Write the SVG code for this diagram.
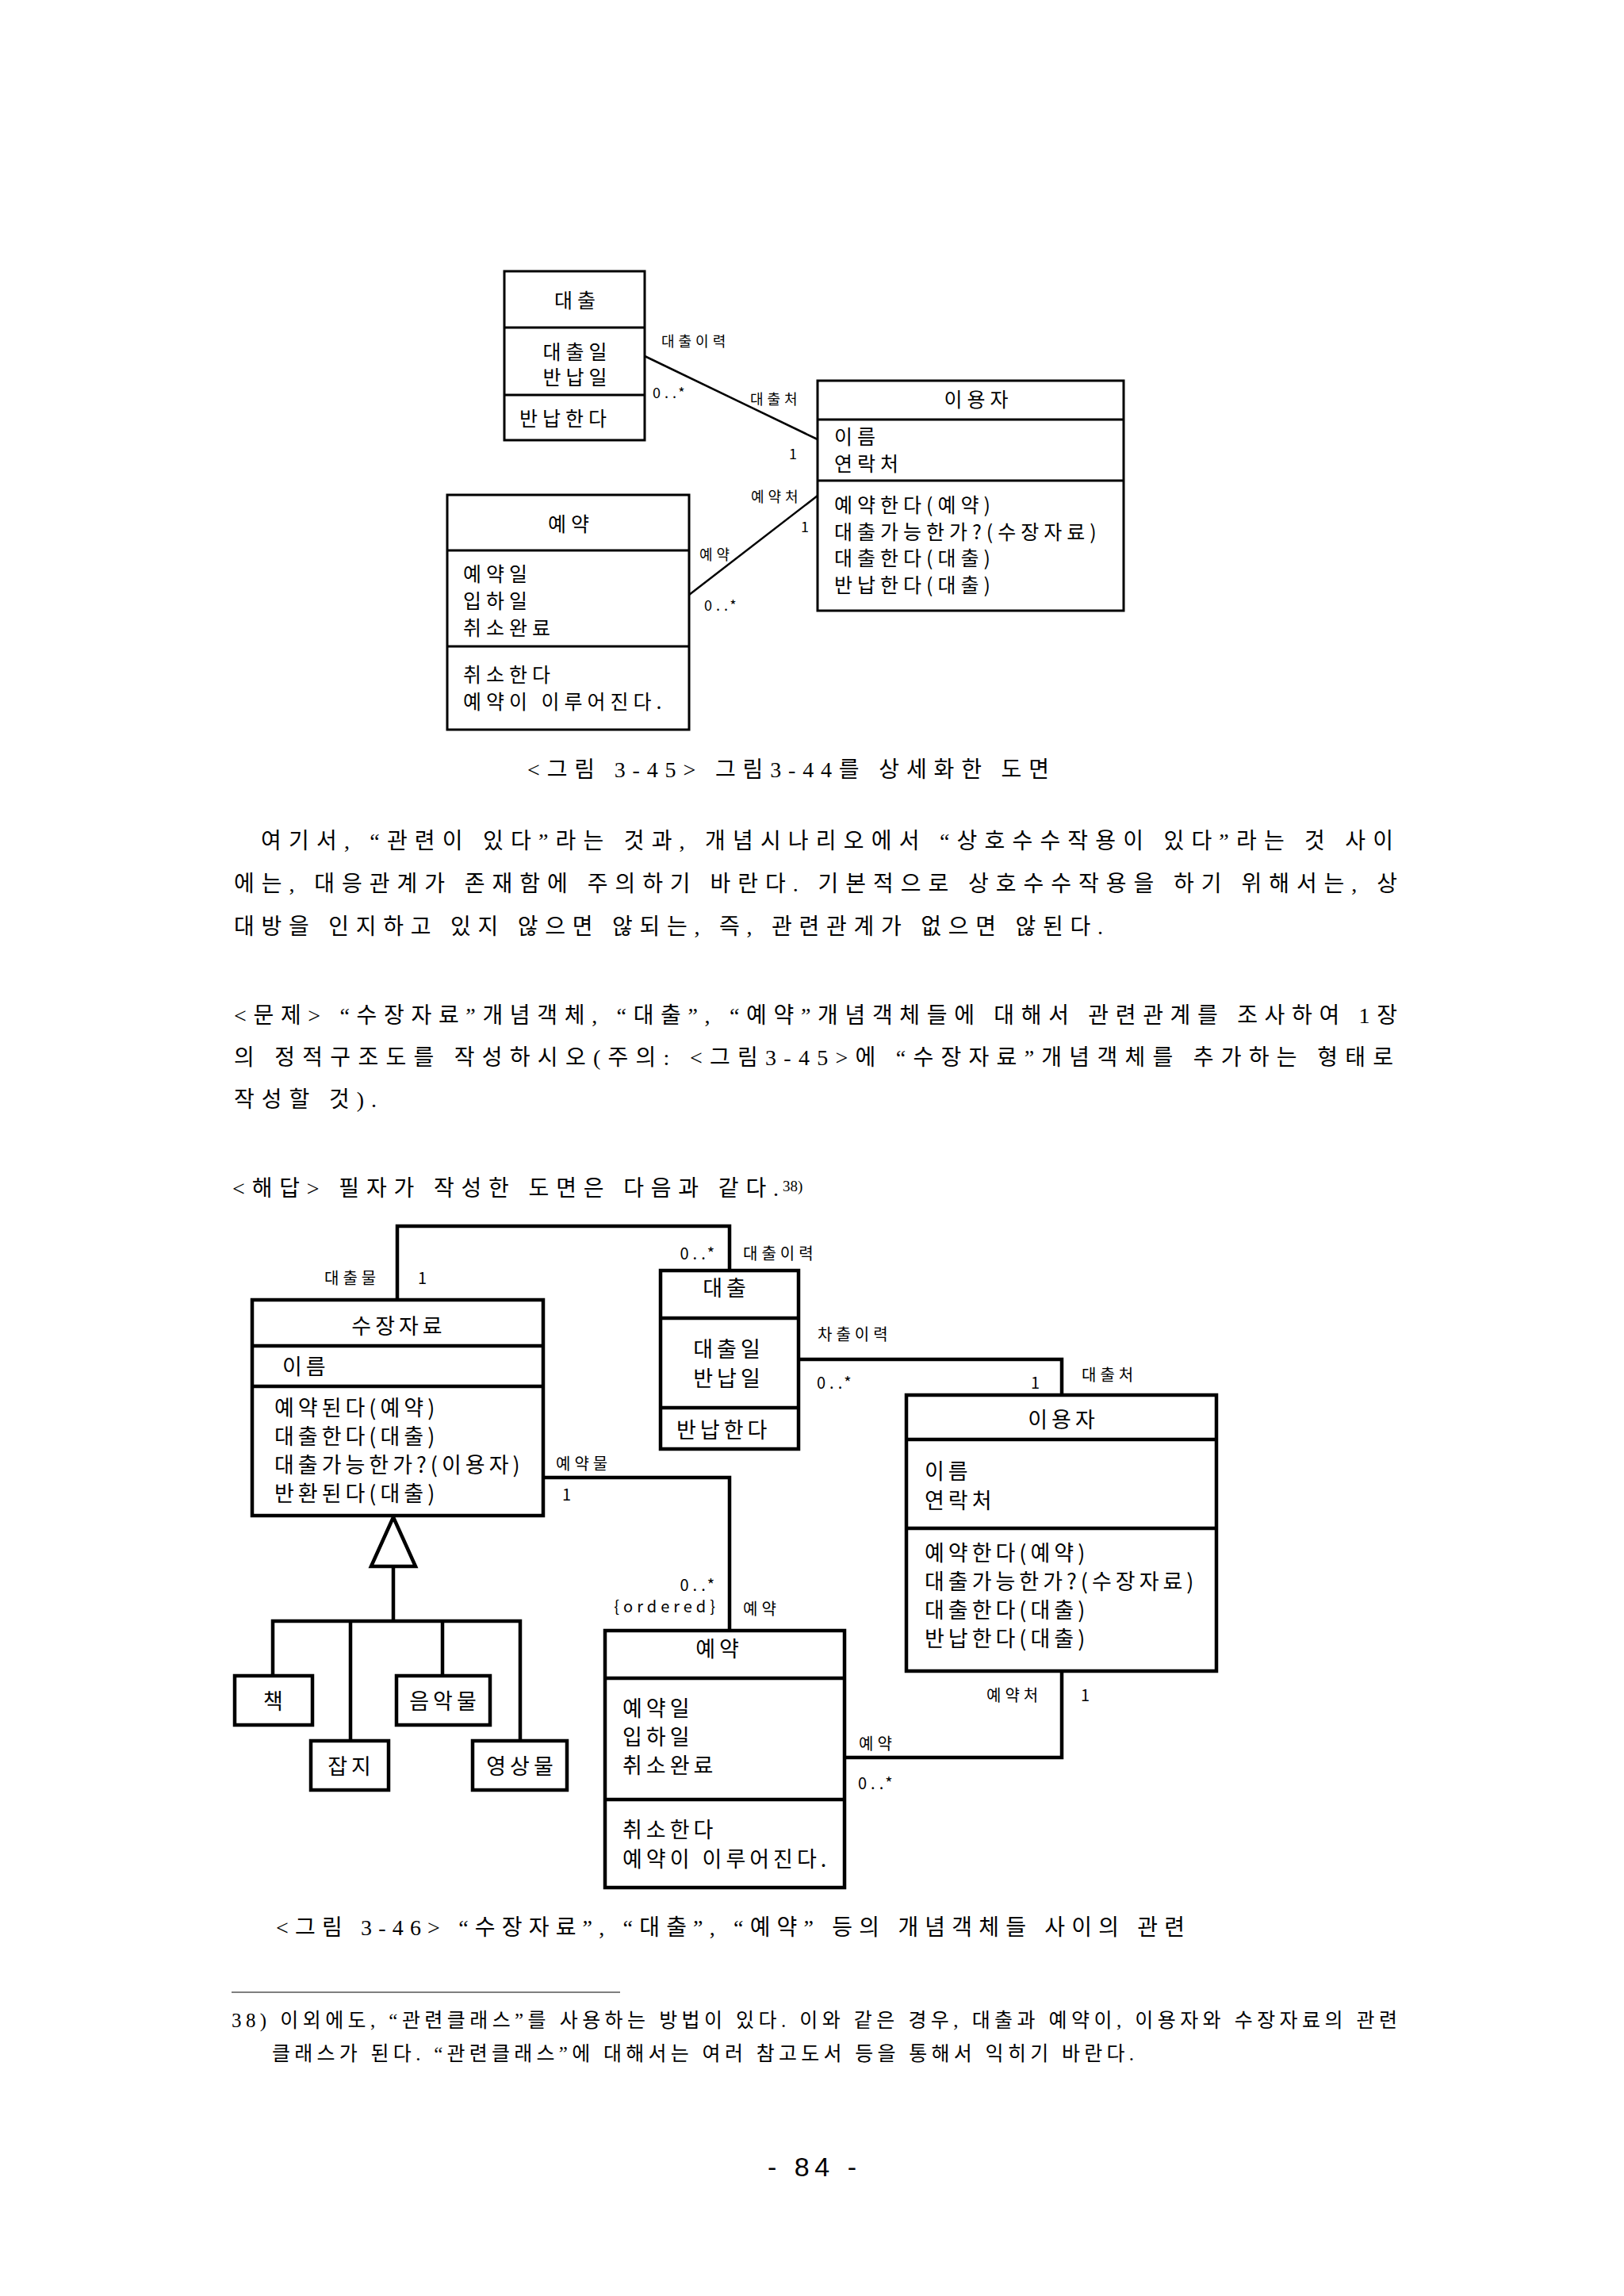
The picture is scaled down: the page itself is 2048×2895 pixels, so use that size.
<svg xmlns="http://www.w3.org/2000/svg" width="2048" height="2895" viewBox="0 0 2048 2895">
<style>
.bg{fill:#ffffff}
.b1{fill:#ffffff;stroke:#000;stroke-width:3}
.b2{fill:#ffffff;stroke:#000;stroke-width:4.5}
.d1{stroke:#000;stroke-width:3;fill:none}
.d2{stroke:#000;stroke-width:4.5;fill:none}
.c1{stroke:#000;stroke-width:2.5;fill:none}
.c2{stroke:#000;stroke-width:4.5;fill:none;stroke-linejoin:miter}
.t{font-family:"Noto Sans CJK KR","Noto Sans",sans-serif;font-size:27px;letter-spacing:5px;fill:#000}
.u{font-family:"Noto Sans CJK KR","Noto Sans",sans-serif;font-size:25px;letter-spacing:6px;fill:#000}
.m{text-anchor:middle}
.s1{font-family:"Noto Sans CJK KR","Noto Sans",sans-serif;font-size:18px;letter-spacing:5px;fill:#000}
.s2{font-family:"Noto Sans CJK KR","Noto Sans",sans-serif;font-size:20px;letter-spacing:5px;fill:#000}
.p{font-family:"Liberation Serif","Noto Sans CJK KR",serif;font-size:28px;fill:#000}
.f{font-family:"Liberation Serif","Noto Sans CJK KR",serif;font-size:25px;fill:#000}
.pg{font-family:"Liberation Sans",sans-serif;font-size:34px;fill:#000}
</style>
<rect class="bg" x="0" y="0" width="2048" height="2895"/>

<!-- Figure 3-45 -->
<g id="fig45-connectors">
  <line class="c1" x1="813" y1="449" x2="1031" y2="554"/>
  <line class="c1" x1="869" y1="750" x2="1031" y2="625"/>
  <text class="s1" x="834" y="437">대출이력</text>
  <text class="s1" x="823" y="502">0..*</text>
  <text class="s1" x="946" y="510">대출처</text>
  <text class="s1" x="995" y="579">1</text>
  <text class="s1" x="947" y="633">예약처</text>
  <text class="s1" x="1010" y="671">1</text>
  <text class="s1" x="882" y="706">예약</text>
  <text class="s1" x="888" y="770">0..*</text>
</g>
<g id="fig45-loan">
  <rect class="b1" x="636" y="342" width="177" height="213"/>
  <line class="d1" x1="636" y1="413" x2="813" y2="413"/>
  <line class="d1" x1="636" y1="498" x2="813" y2="498"/>
  <text class="u m" x="728" y="388">대출</text>
  <text class="u m" x="728" y="453">대출일</text>
  <text class="u m" x="728" y="485">반납일</text>
  <text class="u" x="655" y="537">반납한다</text>
</g>
<g id="fig45-user">
  <rect class="b1" x="1031" y="480" width="386" height="290"/>
  <line class="d1" x1="1031" y1="529" x2="1417" y2="529"/>
  <line class="d1" x1="1031" y1="606" x2="1417" y2="606"/>
  <text class="u m" x="1234" y="513">이용자</text>
  <text class="u" x="1052" y="560">이름</text>
  <text class="u" x="1052" y="594">연락처</text>
  <text class="u" x="1052" y="646">예약한다(예약)</text>
  <text class="u" x="1052" y="680">대출가능한가?(수장자료)</text>
  <text class="u" x="1052" y="713">대출한다(대출)</text>
  <text class="u" x="1052" y="747">반납한다(대출)</text>
</g>
<g id="fig45-reservation">
  <rect class="b1" x="564" y="624" width="305" height="296"/>
  <line class="d1" x1="564" y1="694" x2="869" y2="694"/>
  <line class="d1" x1="564" y1="815" x2="869" y2="815"/>
  <text class="u m" x="720" y="670">예약</text>
  <text class="u" x="584" y="733">예약일</text>
  <text class="u" x="584" y="767">입하일</text>
  <text class="u" x="584" y="801">취소완료</text>
  <text class="u" x="584" y="860">취소한다</text>
  <text class="u" x="584" y="894">예약이 이루어진다.</text>
</g>

<g id="text-top">
  <text class="p" x="665" y="980" textLength="658">&lt;그림 3-45&gt; 그림3-44를 상세화한 도면</text>
  <text class="p" x="329" y="1070" textLength="1428">여기서, “관련이 있다”라는 것과, 개념시나리오에서 “상호수수작용이 있다”라는 것 사이</text>
  <text class="p" x="295" y="1124" textLength="1467">에는, 대응관계가 존재함에 주의하기 바란다. 기본적으로 상호수수작용을 하기 위해서는, 상</text>
  <text class="p" x="295" y="1178" textLength="1096">대방을 인지하고 있지 않으면 않되는, 즉, 관련관계가 없으면 않된다.</text>
  <text class="p" x="295" y="1290" textLength="1467">&lt;문제&gt; “수장자료”개념객체, “대출”, “예약”개념객체들에 대해서 관련관계를 조사하여 1장</text>
  <text class="p" x="295" y="1343" textLength="1462">의 정적구조도를 작성하시오(주의: &lt;그림3-45&gt;에 “수장자료”개념객체를 추가하는 형태로</text>
  <text class="p" x="295" y="1396" textLength="180">작성할 것).</text>
  <text class="p" x="293" y="1508" textLength="689">&lt;해답&gt; 필자가 작성한 도면은 다음과 같다.</text>
  <text class="f" x="987" y="1502" style="font-size:19px">38)</text>
</g>

<!-- Figure 3-46 -->
<g id="fig46-connectors">
  <polyline class="c2" points="501,1639 501,1546 920,1546 920,1602"/>
  <polyline class="c2" points="1007,1714 1339,1714 1339,1759"/>
  <polyline class="c2" points="685,1863 920,1863 920,2056"/>
  <polyline class="c2" points="1339,2107 1339,2216 1065,2216"/>
  <polygon class="b2" points="496,1913 524,1975 468,1975"/>
  <polyline class="c2" points="496,1975 496,2044"/>
  <polyline class="c2" points="344,2113 344,2044 656,2044 656,2195"/>
  <polyline class="c2" points="442,2044 442,2195"/>
  <polyline class="c2" points="558,2044 558,2113"/>
  <text class="s2" x="409" y="1619">대출물</text>
  <text class="s2" x="527" y="1619">1</text>
  <text class="s2" x="906" y="1588" text-anchor="end">0..*</text>
  <text class="s2" x="937" y="1588">대출이력</text>
  <text class="s2" x="1031" y="1690">차출이력</text>
  <text class="s2" x="1030" y="1751">0..*</text>
  <text class="s2" x="1300" y="1751">1</text>
  <text class="s2" x="1364" y="1741">대출처</text>
  <text class="s2" x="701" y="1853">예약물</text>
  <text class="s2" x="709" y="1892">1</text>
  <text class="s2" x="906" y="2006" text-anchor="end">0..*</text>
  <text class="s2" x="907" y="2033" text-anchor="end">{ordered}</text>
  <text class="s2" x="937" y="2036">예약</text>
  <text class="s2" x="1244" y="2145">예약처</text>
  <text class="s2" x="1363" y="2145">1</text>
  <text class="s2" x="1083" y="2206">예약</text>
  <text class="s2" x="1082" y="2256">0..*</text>
</g>
<g id="fig46-collection">
  <rect class="b2" x="318" y="1639" width="367" height="272"/>
  <line class="d2" x1="318" y1="1697" x2="685" y2="1697"/>
  <line class="d2" x1="318" y1="1748" x2="685" y2="1748"/>
  <text class="t m" x="503" y="1682">수장자료</text>
  <text class="t" x="356" y="1733">이름</text>
  <text class="t" x="346" y="1785">예약된다(예약)</text>
  <text class="t" x="346" y="1821">대출한다(대출)</text>
  <text class="t" x="346" y="1857">대출가능한가?(이용자)</text>
  <text class="t" x="346" y="1893">반환된다(대출)</text>
</g>
<g id="fig46-loan">
  <rect class="b2" x="833" y="1602" width="174" height="225"/>
  <line class="d2" x1="833" y1="1662" x2="1007" y2="1662"/>
  <line class="d2" x1="833" y1="1775" x2="1007" y2="1775"/>
  <text class="t m" x="916" y="1634">대출</text>
  <text class="t m" x="919" y="1711">대출일</text>
  <text class="t m" x="919" y="1748">반납일</text>
  <text class="t" x="853" y="1813">반납한다</text>
</g>
<g id="fig46-user">
  <rect class="b2" x="1143" y="1759" width="391" height="348"/>
  <line class="d2" x1="1143" y1="1815" x2="1534" y2="1815"/>
  <line class="d2" x1="1143" y1="1927" x2="1534" y2="1927"/>
  <text class="t m" x="1341" y="1800">이용자</text>
  <text class="t" x="1166" y="1865">이름</text>
  <text class="t" x="1166" y="1902">연락처</text>
  <text class="t" x="1166" y="1968">예약한다(예약)</text>
  <text class="t" x="1166" y="2004">대출가능한가?(수장자료)</text>
  <text class="t" x="1166" y="2040">대출한다(대출)</text>
  <text class="t" x="1166" y="2076">반납한다(대출)</text>
</g>
<g id="fig46-reservation">
  <rect class="b2" x="763" y="2056" width="302" height="324"/>
  <line class="d2" x1="763" y1="2116" x2="1065" y2="2116"/>
  <line class="d2" x1="763" y1="2269" x2="1065" y2="2269"/>
  <text class="t m" x="907" y="2089">예약</text>
  <text class="t" x="785" y="2164">예약일</text>
  <text class="t" x="785" y="2200">입하일</text>
  <text class="t" x="785" y="2236">취소완료</text>
  <text class="t" x="785" y="2317">취소한다</text>
  <text class="t" x="785" y="2354">예약이 이루어진다.</text>
</g>
<g id="fig46-book">
  <rect class="b2" x="296" y="2113" width="98" height="62"/>
  <text class="t m" x="347" y="2155">책</text>
</g>
<g id="fig46-magazine">
  <rect class="b2" x="392" y="2195" width="98" height="62"/>
  <text class="t m" x="443" y="2237">잡지</text>
</g>
<g id="fig46-music">
  <rect class="b2" x="500" y="2113" width="118" height="62"/>
  <text class="t m" x="561" y="2155">음악물</text>
</g>
<g id="fig46-video">
  <rect class="b2" x="596" y="2195" width="119" height="62"/>
  <text class="t m" x="658" y="2237">영상물</text>
</g>

<g id="text-bottom">
  <text class="p" x="348" y="2440" textLength="1146">&lt;그림 3-46&gt; “수장자료”, “대출”, “예약” 등의 개념객체들 사이의 관련</text>
  <line x1="292" y1="2512" x2="782" y2="2512" stroke="#555" stroke-width="1.5"/>
  <text class="f" x="292" y="2556" textLength="1470">38) 이외에도, “관련클래스”를 사용하는 방법이 있다. 이와 같은 경우, 대출과 예약이, 이용자와 수장자료의 관련</text>
  <text class="f" x="343" y="2598" textLength="1087">클래스가 된다. “관련클래스”에 대해서는 여러 참고도서 등을 통해서 익히기 바란다.</text>
  <text class="pg" x="968" y="2744" textLength="112">- 84 -</text>
</g>
</svg>
